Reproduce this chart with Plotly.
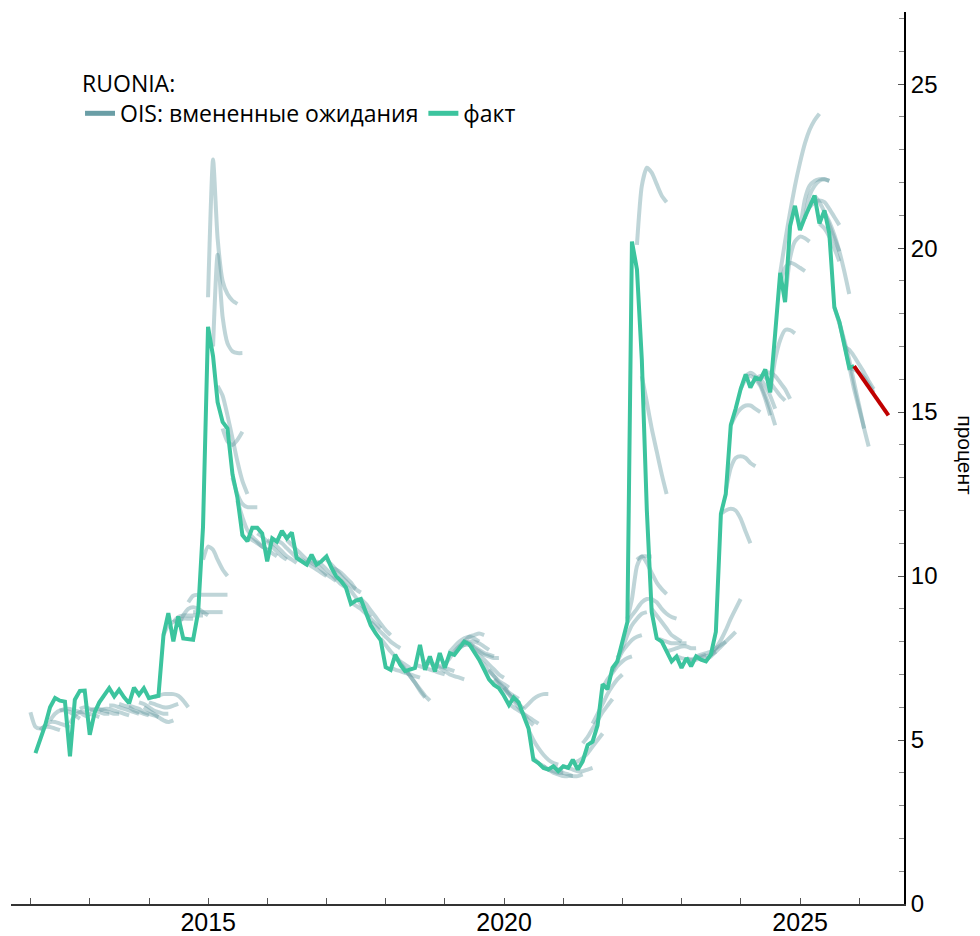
import pandas as pd
import plotly.graph_objects as go

# ---------------- data ----------------
fact_start = "2012-01"
fact_values = [
    4.6, 5.0, 5.45, 6.0, 6.28, 6.2, 6.17, 4.5, 6.23, 6.5, 6.51, 5.16,
    5.85, 6.15, 6.35, 6.58, 6.33, 6.53, 6.3, 6.12, 6.6, 6.38, 6.58, 6.28,
    6.32, 6.35, 8.2, 8.87, 8.01, 8.77, 8.1, 8.08, 8.06, 8.9, 11.5, 17.6,
    16.7, 15.3, 14.7, 14.5, 13.1, 12.4, 11.25, 11.06, 11.47, 11.47, 11.3, 10.45,
    11.15, 11.05, 11.38, 11.15, 11.33, 10.55, 10.45, 10.35, 10.65, 10.35, 10.45, 10.6,
    10.25, 10.0, 9.85, 9.65, 9.15, 9.25, 9.3, 8.9, 8.5, 8.25, 8.05, 7.22,
    7.14, 7.6, 7.3, 7.1, 7.15, 7.2, 7.9, 7.14, 7.55, 7.09, 7.65, 7.2,
    7.65, 7.6, 7.8, 8.0, 7.92, 7.7, 7.45, 7.15, 6.85, 6.68, 6.58, 6.35,
    6.07, 6.3, 6.15, 5.75, 5.35, 4.4, 4.3, 4.15, 4.1, 4.2, 4.05, 4.2,
    4.15, 4.4, 4.1, 4.35, 4.85, 4.95, 5.45, 6.7, 6.55, 7.2, 7.4, 8.0,
    8.6, 20.2, 19.35, 16.6, 12.0, 8.9, 8.1, 8.0, 7.7, 7.4, 7.55, 7.2,
    7.5, 7.25, 7.55, 7.45, 7.4, 7.6, 8.3, 11.9, 12.5, 14.6, 15.1, 15.7,
    16.15, 15.75, 16.05, 16.0, 16.3, 15.6, 17.4, 19.25, 18.35, 20.67, 21.29, 20.55,
    20.95, 21.25, 21.6, 20.75, 21.15, 20.45, 18.2, 17.75, 17.0, 16.35, 16.4,
]

forecast_start = "2025-11"
forecast_values = [16.4, 16.18, 15.96, 15.74, 15.52, 15.3, 15.1, 14.9]

# OIS-implied paths: start month and monthly values
ois_starts = [
    "2011-12", "2012-02", "2012-04", "2012-06", "2012-08", "2012-10", "2012-12",
    "2013-02", "2013-04", "2013-06", "2013-08", "2013-10", "2013-11", "2013-12",
    "2014-01", "2014-03", "2014-05", "2014-06", "2014-08", "2014-09", "2014-11",
    "2014-12", "2015-01", "2015-02", "2015-03", "2015-05",
    "2015-06", "2015-08", "2015-10", "2015-12", "2016-02", "2016-04", "2016-06",
    "2016-08", "2016-10", "2016-12", "2017-01", "2017-03", "2017-05", "2017-07",
    "2017-09", "2017-11", "2018-01", "2018-02", "2018-03", "2018-06", "2018-08",
    "2018-10", "2018-12", "2019-01", "2019-02", "2019-03", "2019-04", "2019-05",
    "2019-06", "2019-07", "2019-09", "2019-10", "2019-12", "2020-01", "2020-04",
    "2020-05", "2020-06", "2020-08", "2020-10", "2020-12", "2021-02", "2021-04",
    "2021-06", "2021-08", "2021-10", "2021-11", "2022-01", "2022-01", "2022-03",
    "2022-03", "2022-04", "2022-06", "2022-06", "2022-07", "2022-09", "2022-11",
    "2023-01", "2023-03", "2023-05", "2023-06", "2023-08", "2023-09", "2023-10",
    "2023-12", "2024-01", "2024-02", "2024-03", "2024-04", "2024-06", "2024-08",
    "2024-09", "2024-08", "2024-12", "2025-01", "2025-02", "2025-03", "2025-04",
    "2025-05", "2025-07", "2025-08", "2025-09", "2025-10",
]
ois_values = [
    [5.85, 5.4, 5.35, 5.4, 5.4, 5.35, 5.3],
    [5.3, 5.45, 5.55, 5.55, 5.5, 5.45, 5.4],
    [5.6, 5.8, 5.9, 5.9, 5.85, 5.75, 5.65],
    [5.9, 5.95, 5.95, 5.9, 5.85, 5.75, 5.7],
    [5.5, 5.75, 5.85, 5.85, 5.8, 5.75, 5.7],
    [5.95, 6.0, 5.95, 5.9, 5.85, 5.8, 5.8],
    [5.9, 5.95, 5.95, 5.9, 5.85, 5.8, 5.8],
    [5.9, 5.95, 5.95, 5.9, 5.85, 5.8, 5.75],
    [6.05, 6.05, 6.0, 5.95, 5.9, 5.85, 5.8],
    [6.1, 6.05, 6.0, 5.9, 5.85, 5.8, 5.75],
    [6.05, 6.0, 5.95, 5.85, 5.8, 5.75, 5.7],
    [6.15, 6.1, 6.0, 5.9, 5.85, 5.8, 5.8],
    [6.0, 5.9, 5.8, 5.7, 5.6, 5.55, 5.6],
    [6.15, 6.1, 6.05, 6.0, 6.0, 6.05, 6.1],
    [6.3, 6.35, 6.4, 6.4, 6.4, 6.35, 6.2, 6.0],
    [8.2, 8.5, 8.6, 8.65, 8.7, 8.7, 8.7],
    [8.6, 8.75, 8.8, 8.8, 8.8, 8.8, 8.8],
    [8.5, 8.8, 9.0, 9.05, 9.0, 8.9, 8.8],
    [9.2, 9.4, 9.43, 9.43, 9.43, 9.43, 9.43, 9.43, 9.43],
    [8.9, 8.9, 8.9, 8.9, 8.9, 8.9, 8.9],
    [10.5, 10.9, 10.8, 10.5, 10.2, 10.0],
    [18.5, 22.7, 20.3, 19.0, 18.6, 18.4, 18.3],
    [17.0, 19.8, 17.9, 17.1, 16.85, 16.8, 16.8],
    [15.8, 15.5, 14.9, 14.2, 13.5, 12.9, 12.5],
    [14.5, 14.1, 14.0, 14.15, 14.4],
    [13.0, 12.5, 12.2, 12.1, 12.1, 12.1],
    [12.3, 11.8, 11.4, 11.2, 11.05, 10.9, 10.8],
    [11.2, 11.1, 11.0, 10.9, 10.8, 10.7, 10.6],
    [11.3, 11.2, 11.05, 10.9, 10.75, 10.6, 10.5],
    [11.1, 11.0, 10.9, 10.75, 10.6, 10.5, 10.4],
    [11.1, 11.0, 10.85, 10.7, 10.55, 10.45, 10.35],
    [11.1, 10.95, 10.8, 10.65, 10.5, 10.4, 10.3],
    [10.6, 10.5, 10.4, 10.3, 10.2, 10.1, 10.0],
    [10.5, 10.45, 10.35, 10.2, 10.05, 9.95, 9.85],
    [10.45, 10.35, 10.2, 10.05, 9.9, 9.75, 9.65],
    [10.5, 10.35, 10.2, 10.0, 9.85, 9.7, 9.6],
    [10.25, 10.2, 10.1, 9.95, 9.8, 9.6, 9.5],
    [9.85, 9.7, 9.55, 9.35, 9.15, 8.95, 8.75],
    [9.2, 9.1, 9.0, 8.85, 8.7, 8.55, 8.4],
    [9.3, 9.15, 8.95, 8.75, 8.55, 8.35, 8.2],
    [8.6, 8.45, 8.3, 8.15, 8.0, 7.9, 7.8],
    [8.1, 7.9, 7.7, 7.55, 7.4, 7.3, 7.2],
    [7.2, 7.15, 7.1, 7.05, 7.0, 6.95, 6.9],
    [7.5, 7.35, 7.15, 6.95, 6.75, 6.5, 6.3],
    [7.3, 7.15, 6.95, 6.75, 6.55, 6.35, 6.2],
    [7.3, 7.25, 7.2, 7.15, 7.1, 7.05, 7.0],
    [7.4, 7.35, 7.3, 7.25, 7.2, 7.15, 7.1],
    [7.3, 7.2, 7.1, 7.0, 6.95, 6.9, 6.85],
    [7.3, 7.5, 7.7, 7.85, 7.9, 7.9, 7.85],
    [7.7, 7.85, 8.0, 8.1, 8.15, 8.1, 8.0],
    [7.65, 7.85, 8.0, 8.15, 8.2, 8.25, 8.2],
    [7.8, 7.9, 8.0, 8.0, 7.95, 7.85, 7.75],
    [8.0, 7.95, 7.85, 7.75, 7.65, 7.6, 7.55],
    [7.9, 7.8, 7.7, 7.6, 7.55, 7.5, 7.5],
    [7.7, 7.6, 7.45, 7.3, 7.15, 7.0, 6.9],
    [7.45, 7.3, 7.1, 6.95, 6.8, 6.7, 6.6],
    [7.15, 6.95, 6.75, 6.6, 6.45, 6.35, 6.25],
    [6.85, 6.7, 6.55, 6.4, 6.25, 6.1, 5.95],
    [6.6, 6.4, 6.2, 6.0, 5.8, 5.6, 5.45],
    [6.1, 6.0, 5.9, 5.8, 5.7, 5.6, 5.5],
    [5.95, 6.1, 6.25, 6.35, 6.4, 6.4],
    [5.3, 5.0, 4.75, 4.55, 4.4, 4.3, 4.25],
    [4.45, 4.3, 4.2, 4.1, 4.05, 4.0, 4.0],
    [4.2, 4.1, 4.0, 3.95, 3.9, 3.9, 3.9],
    [4.2, 4.1, 4.0, 3.95, 3.9, 3.9, 3.95],
    [4.2, 4.15, 4.1, 4.05, 4.05, 4.1, 4.15],
    [4.3, 4.35, 4.45, 4.6, 4.8, 5.0, 5.2],
    [4.9, 5.1, 5.35, 5.6, 5.85, 6.05, 6.25],
    [5.5, 5.8, 6.1, 6.4, 6.65, 6.85, 7.0],
    [6.6, 6.85, 7.05, 7.25, 7.4, 7.5, 7.55],
    [7.1, 7.4, 7.7, 7.9, 8.05, 8.15, 8.2],
    [7.5, 7.8, 8.2, 8.5, 8.7, 8.85, 8.9],
    [8.7, 9.3, 10.3, 10.6, 10.6, 10.6],
    [8.6, 8.8, 9.0, 9.2, 9.3, 9.3],
    [20.1, 21.9, 22.45, 22.3, 21.95, 21.6, 21.4],
    [10.5, 10.6, 10.4, 10.1, 9.8, 9.6, 9.45],
    [16.1, 15.3, 14.5, 13.8, 13.1, 12.5],
    [9.3, 9.2, 9.0, 8.85, 8.75, 8.7],
    [9.0, 8.8, 8.6, 8.4, 8.2, 8.1, 8.0],
    [8.1, 8.05, 8.0, 7.95, 7.95, 7.95, 7.95],
    [7.7, 7.75, 7.8, 7.85, 7.85, 7.8, 7.8],
    [7.55, 7.5, 7.45, 7.45, 7.5, 7.55, 7.6],
    [7.5, 7.45, 7.45, 7.5, 7.55, 7.6, 7.7],
    [7.55, 7.6, 7.65, 7.7, 7.8, 7.9, 8.0],
    [7.45, 7.55, 7.7, 7.85, 8.0, 8.15, 8.3],
    [7.6, 7.8, 8.05, 8.35, 8.7, 9.0, 9.3],
    [11.9, 12.0, 12.05, 12.0, 11.75, 11.35, 11.0],
    [12.6, 13.3, 13.6, 13.65, 13.6, 13.45, 13.35],
    [14.6, 14.9, 15.1, 15.2, 15.2, 15.1, 15.0],
    [15.7, 16.0, 16.1, 16.0, 15.8, 15.4, 14.9],
    [16.1, 16.2, 16.1, 15.85, 15.5, 15.1, 14.6],
    [15.8, 16.0, 16.0, 15.8, 15.5, 15.1],
    [16.0, 16.1, 16.05, 15.9, 15.7, 15.5, 15.35],
    [16.0, 16.2, 16.2, 16.1, 15.9, 15.7, 15.4],
    [15.6, 16.6, 17.2, 17.5, 17.5, 17.4],
    [19.25, 20.2, 21.1, 21.9, 22.6, 23.2, 23.6, 23.9, 24.1],
    [18.4, 19.7, 20.2, 20.35, 20.3, 20.2],
    [18.9, 19.4, 19.55, 19.5, 19.4, 19.3],
    [20.55, 21.5, 21.9, 22.05, 22.1, 22.1, 22.05],
    [20.9, 21.6, 21.9, 22.05, 22.1, 22.05],
    [21.25, 21.4, 21.45, 21.4, 21.2, 20.95, 20.7],
    [21.6, 21.4, 21.1, 20.7, 20.3, 19.9],
    [20.75, 20.6, 20.35, 20.0, 19.6],
    [21.1, 20.8, 20.4, 19.9, 19.3, 18.6],
    [18.2, 17.7, 17.1, 16.4, 15.7, 15.1, 14.5],
    [17.75, 17.2, 16.6, 15.9, 15.2, 14.5, 13.95],
    [17.0, 16.9, 16.7, 16.45, 16.2, 15.95, 15.7],
    [16.35, 16.3, 16.2, 16.05, 15.85, 15.6],
]

year_ticks = [str(y) for y in range(2012, 2027)]
year_labels = ["", "", "", "2015", "", "", "", "", "2020", "", "", "", "", "2025", ""]

legend_title = "RUONIA:"
name_ois = "OIS: вмененные ожидания"
name_fact = "факт"
y_title = "процент"

# ---------------- styles ----------------
OIS_COLOR = "rgba(95,150,158,0.40)"
OIS_LEGEND = "rgb(106,158,166)"
FACT_COLOR = "#3cc49e"
RED = "#c00000"
FONT = "Liberation Sans"
LEG_FONT = "Open Sans"


def months(start, n):
    return pd.date_range(start=start + "-01", periods=n, freq="ME")


fig = go.Figure()

for s, vals in zip(ois_starts, ois_values):
    fig.add_trace(go.Scatter(
        x=months(s, len(vals)), y=vals, mode="lines",
        line=dict(color=OIS_COLOR, width=4, shape="spline", smoothing=0.6),
        showlegend=False, hoverinfo="skip",
    ))

fig.add_trace(go.Scatter(
    x=months(fact_start, len(fact_values)), y=fact_values, mode="lines",
    line=dict(color=FACT_COLOR, width=4), showlegend=False,
))
fig.add_trace(go.Scatter(
    x=months(forecast_start, len(forecast_values)), y=forecast_values, mode="lines",
    line=dict(color=RED, width=4), showlegend=False,
))

# legend entries
fig.add_trace(go.Scatter(x=[None], y=[None], mode="lines", name=name_ois,
                         line=dict(color=OIS_LEGEND, width=5)))
fig.add_trace(go.Scatter(x=[None], y=[None], mode="lines", name=name_fact,
                         line=dict(color=FACT_COLOR, width=5)))

fig.update_layout(
    width=980, height=928,
    margin=dict(l=3, r=84, t=4, b=32),
    paper_bgcolor="white", plot_bgcolor="white",
    font=dict(family=FONT, size=22, color="black"),
    legend=dict(
        title=dict(text=legend_title, side="top", font=dict(size=23, family=LEG_FONT)),
        orientation="h", x=0.0773, y=0.944, xanchor="left", yanchor="top",
        font=dict(size=23, family=LEG_FONT), bgcolor="rgba(0,0,0,0)", itemwidth=30,
        tracegroupgap=0,
    ),
    xaxis=dict(
        type="date", range=["2011-09-02", "2026-10-04"], automargin=False,
        showgrid=False, zeroline=False,
        showline=True, linecolor="#333333", linewidth=2,
        ticks="inside", ticklen=6, tickcolor="#555555", tickwidth=1,
        tickmode="array", tickvals=year_ticks, ticktext=year_labels,
        tickfont=dict(size=25, family=FONT), ticklabelstandoff=-5,
    ),
    yaxis=dict(
        side="right", range=[0, 27.2], automargin=False,
        showgrid=False, zeroline=False,
        showline=True, linecolor="black", linewidth=2,
        ticks="inside", ticklen=6, tickcolor="#555555", tickwidth=1,
        dtick=5, tick0=0,
        minor=dict(dtick=1, ticks="inside", ticklen=5, tickcolor="#888888", tickwidth=1),
        tickfont=dict(size=24, family=FONT),
    ),
    annotations=[dict(
        text=y_title, xref="paper", yref="paper", x=1.0695, y=0.503,
        showarrow=False, textangle=90, font=dict(size=21, family=FONT),
        xanchor="center", yanchor="middle",
    )],
)

fig.write_html("out.html")
